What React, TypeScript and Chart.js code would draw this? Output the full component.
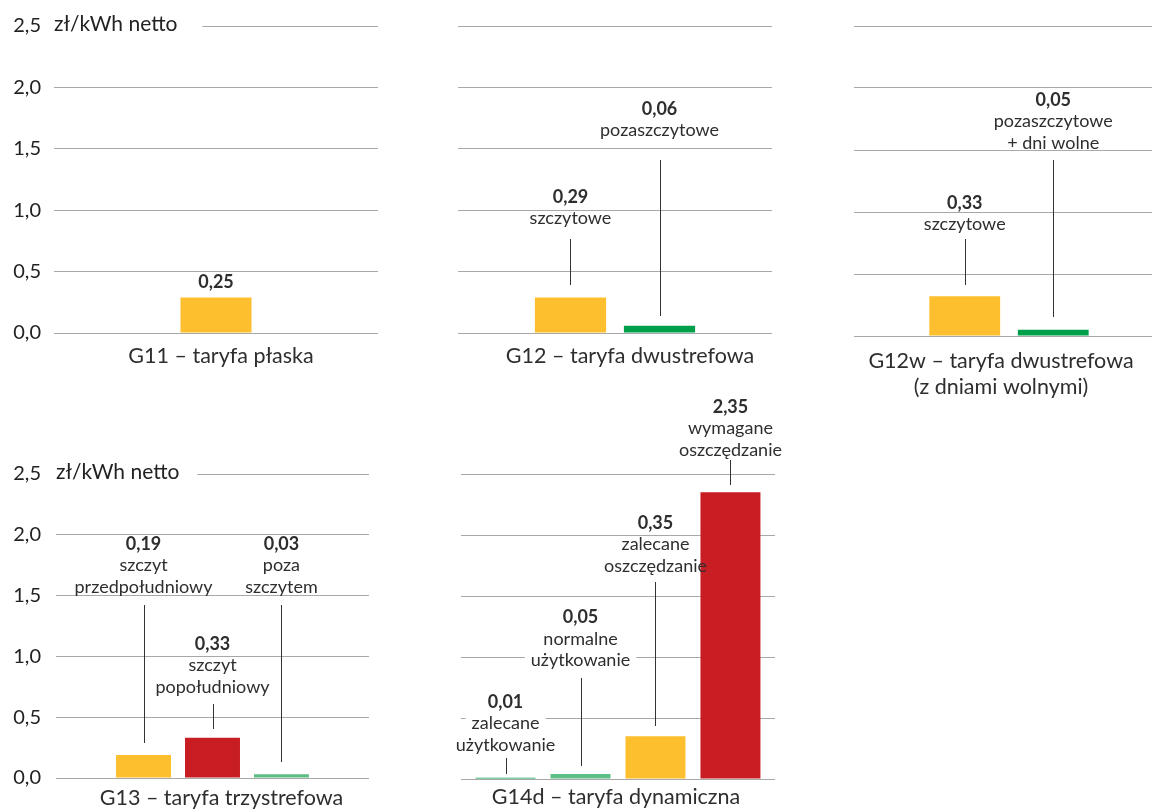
import React, { useEffect, useRef } from 'react';
import { Chart, registerables } from 'chart.js';
Chart.register(...registerables);

// ---------- data ----------
const YELLOW = '#FDBF2D';
const GREEN = '#00A04B';
const LIGHT_GREEN = '#5DBE86';
const RED = '#C91D24';

const yMin = 0;
const yMax = 2.5;
const yStep = 0.5;
const unitLabel = 'zł/kWh netto';

const g11Title = ['G11 – taryfa płaska'];
const g11Values = [0.29];
const g11Colors = [YELLOW];
const g11Notes = [['0,25']];

const g12Title = ['G12 – taryfa dwustrefowa'];
const g12Values = [0.29, 0.06];
const g12Colors = [YELLOW, GREEN];
const g12Notes = [['0,29', 'szczytowe'], ['0,06', 'pozaszczytowe']];

const g12wTitle = ['G12w – taryfa dwustrefowa', '(z dniami wolnymi)'];
const g12wValues = [0.32, 0.05];
const g12wColors = [YELLOW, GREEN];
const g12wNotes = [['0,33', 'szczytowe'], ['0,05', 'pozaszczytowe', '+ dni wolne']];

const g13Title = ['G13 – taryfa trzystrefowa'];
const g13Values = [0.19, 0.33, 0.03];
const g13Colors = [YELLOW, RED, LIGHT_GREEN];
const g13Notes = [
  ['0,19', 'szczyt', 'przedpołudniowy'],
  ['0,33', 'szczyt', 'popołudniowy'],
  ['0,03', 'poza', 'szczytem'],
];

const g14Title = ['G14d – taryfa dynamiczna'];
const g14Values = [0.01, 0.04, 0.35, 2.35];
const g14Colors = [GREEN, LIGHT_GREEN, YELLOW, RED];
const g14Notes = [
  ['0,01', 'zalecane', 'użytkowanie'],
  ['0,05', 'normalne', 'użytkowanie'],
  ['0,35', 'zalecane', 'oszczędzanie'],
  ['2,35', 'wymagane', 'oszczędzanie'],
];

// ---------- layout (positions of panels and annotations) ----------
const FONT = 'Lato, "Noto Sans", sans-serif';
const TEXT = '#2E2E2E';
const GRID = '#A8A8A8';
const NOTE_LINE = 21.5;
const NOTE_SIZE = 18;

type PanelCfg = {
  title: string[];
  values: number[];
  colors: string[];
  notes: string[][];
  noteY: number[];
  leaders: (number[] | null)[];
  box: { left: number; top: number; w: number; h: number };
  pad: { left: number; right: number; top: number };
  yWidth: number;
  xHeight: number;
  ticks: boolean;
  tickPad: number;
  titlePad: number;
  titleShift: number;
  catPct: number;
  barPct: number;
  unit: boolean;
  unitGap: number;
};

const panels: PanelCfg[] = [
  {
    title: g11Title, values: g11Values, colors: g11Colors, notes: g11Notes,
    noteY: [0.415], leaders: [null],
    box: { left: 0, top: 0, w: 390, h: 380 }, pad: { left: 0, right: 12, top: 26 },
    yWidth: 54, xHeight: 47, ticks: true, tickPad: 13, titlePad: 10, titleShift: 5,
    catPct: 0.274, barPct: 0.8, unit: true, unitGap: 25,
  },
  {
    title: g12Title, values: g12Values, colors: g12Colors, notes: g12Notes,
    noteY: [1.107, 1.824], leaders: [[0.765, 0.39], [1.409, 0.138]],
    box: { left: 446, top: 0, w: 340, h: 380 }, pad: { left: 12, right: 14, top: 26 },
    yWidth: 0, xHeight: 47, ticks: false, tickPad: 0, titlePad: 10, titleShift: 15,
    catPct: 0.567, barPct: 0.8, unit: false, unitGap: 0,
  },
  {
    title: g12wTitle, values: g12wValues, colors: g12wColors, notes: g12wNotes,
    noteY: [1.073, 1.903], leaders: [[0.782, 0.411], [1.419, 0.153]],
    box: { left: 846, top: 0, w: 330, h: 410 }, pad: { left: 8, right: 12, top: 26 },
    yWidth: 0, xHeight: 74, ticks: false, tickPad: 0, titlePad: 12, titleShift: -8,
    catPct: 0.571, barPct: 0.8, unit: false, unitGap: 0,
  },
  {
    title: g13Title, values: g13Values, colors: g13Colors, notes: g13Notes,
    noteY: [1.924, 1.102, 1.924], leaders: [[1.423, 0.288], [0.609, 0.403], [1.423, 0.132]],
    box: { left: 0, top: 440, w: 390, h: 380 }, pad: { left: 0, right: 21, top: 34 },
    yWidth: 56, xHeight: 42, ticks: true, tickPad: 15, titlePad: 7, titleShift: 9,
    catPct: 0.661, barPct: 0.797, unit: true, unitGap: 18,
  },
  {
    title: g14Title, values: g14Values, colors: g14Colors, notes: g14Notes,
    noteY: [0.633, 1.324, 2.097, 3.05],
    leaders: [[0.173, 0.041], [0.83, 0.107], [1.612, 0.436], [2.615, 2.41]],
    box: { left: 446, top: 390, w: 340, h: 430 }, pad: { left: 15, right: 11, top: 84 },
    yWidth: 0, xHeight: 41, ticks: false, tickPad: 0, titlePad: 5, titleShift: -2,
    catPct: 0.955, barPct: 0.8, unit: false, unitGap: 0,
  },
];

function noteFont(j: number) {
  return (j === 0 ? 'bold ' : '') + NOTE_SIZE + 'px ' + FONT;
}

const notesPlugin = {
  id: 'notes',
  // white backgrounds behind annotation text (break the gridlines), under bars
  beforeDatasetsDraw(chart: any, _args: any, opts: any) {
    const { ctx } = chart;
    const ys = chart.scales.y;
    (opts.notes as string[][]).forEach((lines, i) => {
      const bar = chart.getDatasetMeta(i).data[0];
      if (!bar) return;
      const y0 = ys.getPixelForValue(opts.noteY[i]);
      ctx.save();
      lines.forEach((t, j) => {
        ctx.font = noteFont(j);
        const ly = y0 + j * NOTE_LINE;
        const w = ctx.measureText(t).width;
        ctx.fillStyle = '#ffffff';
        ctx.fillRect(bar.x - w / 2 - 6, ly - 7, w + 12, 14);
      });
      ctx.restore();
    });
  },
  afterDatasetsDraw(chart: any, _args: any, opts: any) {
    const { ctx } = chart;
    const ys = chart.scales.y;
    (opts.notes as string[][]).forEach((lines, i) => {
      const bar = chart.getDatasetMeta(i).data[0];
      if (!bar) return;
      const x = bar.x;
      const y0 = ys.getPixelForValue(opts.noteY[i]);
      ctx.save();
      ctx.textAlign = 'center';
      ctx.textBaseline = 'middle';
      lines.forEach((t, j) => {
        ctx.font = noteFont(j);
        ctx.fillStyle = TEXT;
        ctx.fillText(t, x, y0 + j * NOTE_LINE);
      });
      const ld = opts.leaders[i];
      if (ld) {
        const lx = Math.round(x) + 0.5;
        ctx.strokeStyle = '#333333';
        ctx.lineWidth = 1;
        ctx.beginPath();
        ctx.moveTo(lx, Math.round(ys.getPixelForValue(ld[0])));
        ctx.lineTo(lx, Math.round(ys.getPixelForValue(ld[1])));
        ctx.stroke();
      }
      ctx.restore();
    });
  },
};

const unitPlugin = {
  id: 'unitLabel',
  beforeDatasetsDraw(chart: any, _args: any, opts: any) {
    if (!opts.show) return;
    const { ctx, chartArea } = chart;
    const y = chart.scales.y.getPixelForValue(yMax);
    ctx.save();
    ctx.font = '21px ' + FONT;
    const w = ctx.measureText(unitLabel).width;
    ctx.fillStyle = '#ffffff';
    ctx.fillRect(chartArea.left, y - 3, w + opts.gap, 6);
    ctx.fillStyle = '#222222';
    ctx.textAlign = 'left';
    ctx.textBaseline = 'middle';
    ctx.fillText(unitLabel, chartArea.left, y - 2);
    ctx.restore();
  },
};

function Panel({ cfg }: { cfg: PanelCfg }) {
  const ref = useRef<HTMLCanvasElement>(null);
  useEffect(() => {
    if (!ref.current) return;
    const chart = new Chart(ref.current, {
      type: 'bar',
      data: {
        labels: [cfg.title],
        datasets: cfg.values.map((v, i) => ({
          label: cfg.notes[i][0],
          data: [v],
          backgroundColor: cfg.colors[i],
          borderWidth: 0,
          categoryPercentage: cfg.catPct,
          barPercentage: cfg.barPct,
        })),
      },
      options: {
        animation: false,
        responsive: false,
        devicePixelRatio: 1,
        layout: { padding: { left: cfg.pad.left, right: cfg.pad.right, top: cfg.pad.top, bottom: 0 } },
        plugins: {
          legend: { display: false },
          tooltip: { enabled: false },
          title: { display: false },
          notes: { notes: cfg.notes, noteY: cfg.noteY, leaders: cfg.leaders },
          unitLabel: { show: cfg.unit, gap: cfg.unitGap },
        } as any,
        scales: {
          x: {
            type: 'category',
            grid: { display: false, drawTicks: false },
            border: { display: false },
            ticks: {
              color: TEXT,
              font: { family: FONT, size: 21.5, lineHeight: 1.22 },
              padding: cfg.titlePad,
              labelOffset: cfg.titleShift,
              maxRotation: 0,
              autoSkip: false,
            },
            afterFit: (s: any) => { s.height = cfg.xHeight; },
          },
          y: {
            min: yMin,
            max: yMax,
            grid: { color: GRID, lineWidth: 1, drawTicks: false },
            border: { display: false },
            ticks: {
              display: cfg.ticks,
              stepSize: yStep,
              color: '#222222',
              font: { family: FONT, size: 20 },
              padding: cfg.tickPad,
              callback: (v: any) => Number(v).toFixed(1).replace('.', ','),
            },
            afterFit: (s: any) => { s.width = cfg.yWidth; },
          },
        },
      },
      plugins: [notesPlugin, unitPlugin],
    } as any);
    return () => chart.destroy();
  }, [cfg]);
  return (
    <canvas
      ref={ref}
      width={cfg.box.w}
      height={cfg.box.h}
      style={{ position: 'absolute', left: cfg.box.left, top: cfg.box.top, width: cfg.box.w, height: cfg.box.h }}
    />
  );
}

export default function App() {
  return (
    <div
      style={{
        position: 'fixed', left: 0, top: 0, width: 1152, height: 810,
        overflow: 'hidden', background: '#ffffff',
      }}
    >
      {panels.map((p, i) => <Panel key={i} cfg={p} />)}
    </div>
  );
}
